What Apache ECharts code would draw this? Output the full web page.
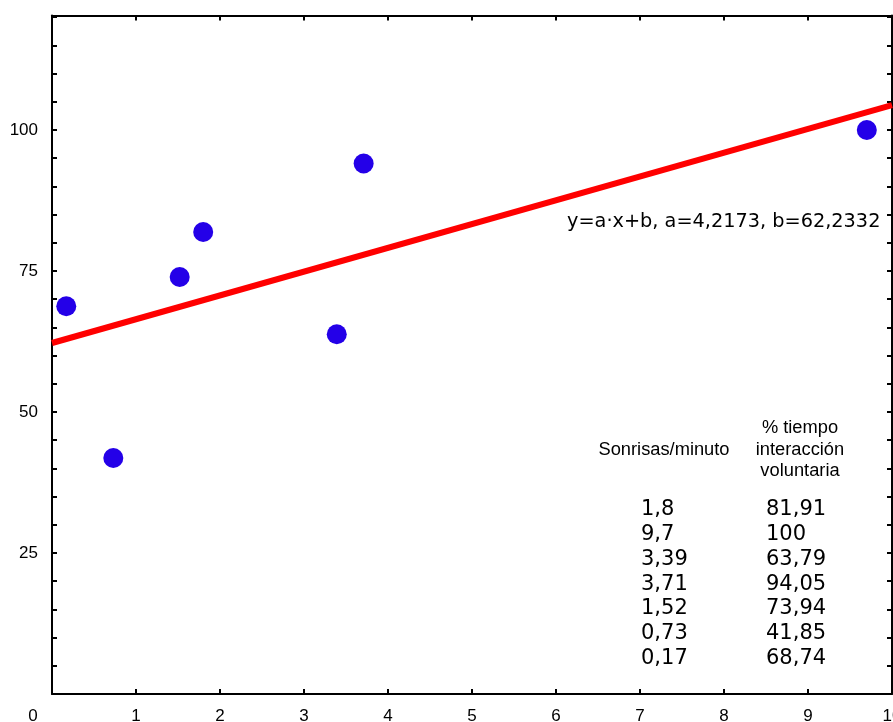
<!DOCTYPE html>
<html><head><meta charset="utf-8">
<script src="https://cdn.jsdelivr.net/npm/echarts@6/dist/echarts.min.js"></script>
<style>html,body{margin:0;padding:0;background:#fff}#c{width:893px;height:722px}</style>
</head><body><div id="c"></div>
<script>
// Data
const smilesPerMinute = [1.8, 9.7, 3.39, 3.71, 1.52, 0.73, 0.17];
const pctTime = [81.91, 100, 63.79, 94.05, 73.94, 41.85, 68.74];
const fitX = [0, 10];
const fitY = [62.2332, 104.4062];
const fitA = '4,2173', fitB = '62,2332';
const xTickLabels = ['0','1','2','3','4','5','6','7','8','9','10'];
const yTickLabels = [25, 50, 75, 100];
const headerCol1 = 'Sonrisas/minuto';
const headerCol2 = ['% tiempo', 'interacción', 'voluntaria'];

const fmt = v => String(v).replace('.', ',');
const chart = echarts.init(document.getElementById('c'), null, {renderer: 'canvas'});
const axisLineStyle = {color: '#000', width: 2};
const baseX = {
  type: 'value', min: 0, max: 10, interval: 1,
  axisLine: {show: true, onZero: false, lineStyle: axisLineStyle},
  axisTick: {show: true, inside: true, length: 5, lineStyle: {color: '#000', width: 2}},
  splitLine: {show: false}
};
const baseY = {
  type: 'value', min: 0, max: 120.3, interval: 5,
  axisLine: {show: true, onZero: false, lineStyle: axisLineStyle},
  axisTick: {show: true, inside: true, length: 5, lineStyle: {color: '#000', width: 2}},
  splitLine: {show: false}
};
const labelFont = {fontFamily: 'Liberation Sans, Arial, sans-serif', fontSize: 17, color: '#000'};

const graphics = [];
graphics.push({type: 'text', left: 567, top: 212, style: {
  text: 'y=a·x+b, a=' + fitA + ', b=' + fitB, fontFamily: 'DejaVu Sans', fontSize: 19.3, fill: '#000'}});
graphics.push({type: 'text', x: 664, y: 450, style: {
  text: headerCol1, fontFamily: 'Liberation Sans, Arial', fontSize: 18.3, fill: '#000',
  textAlign: 'center', textVerticalAlign: 'middle'}});
headerCol2.forEach((t, i) => graphics.push({type: 'text', x: 800, y: 428 + i * 21.5, style: {
  text: t, fontFamily: 'Liberation Sans, Arial', fontSize: 18.3, fill: '#000',
  textAlign: 'center', textVerticalAlign: 'middle'}}));
smilesPerMinute.forEach((v, i) => {
  graphics.push({type: 'text', x: 641, y: 510 + i * 24.7, style: {
    text: fmt(v), fontFamily: 'DejaVu Sans', fontSize: 21, fill: '#000', textVerticalAlign: 'middle'}});
  graphics.push({type: 'text', x: 766, y: 510 + i * 24.7, style: {
    text: fmt(pctTime[i]), fontFamily: 'DejaVu Sans', fontSize: 21, fill: '#000', textVerticalAlign: 'middle'}});
});

chart.setOption({
  animation: false,
  backgroundColor: '#fff',
  grid: {left: 52, right: 1, top: 15.5, bottom: 28, containLabel: false, outerBoundsMode: 'none'},
  xAxis: [
    Object.assign({}, baseX, {position: 'bottom',
      axisLabel: Object.assign({}, labelFont, {margin: 14,
        formatter: v => v === 0 ? '{z|' + xTickLabels[0] + '}' : xTickLabels[Math.round(v)],
        rich: {z: Object.assign({}, labelFont, {padding: [0, 38, 0, 0]})}})}),
    Object.assign({}, baseX, {position: 'top', axisLabel: {show: false}})
  ],
  yAxis: [
    Object.assign({}, baseY, {position: 'left',
      axisLabel: Object.assign({}, labelFont, {margin: 14, showMaxLabel: false,
        formatter: v => yTickLabels.includes(v) ? String(v) : ''})}),
    Object.assign({}, baseY, {position: 'right', axisLabel: {show: false}})
  ],
  series: [
    {type: 'line', xAxisIndex: 0, yAxisIndex: 0, data: fitX.map((x, i) => [x, fitY[i]]),
      symbol: 'none', lineStyle: {color: '#ff0000', width: 6}, z: 2},
    {type: 'scatter', xAxisIndex: 0, yAxisIndex: 0,
      data: smilesPerMinute.map((x, i) => [x, pctTime[i]]),
      symbolSize: 20, itemStyle: {color: '#2400e8', opacity: 1}, z: 3}
  ],
  graphic: graphics
});
</script></body></html>
